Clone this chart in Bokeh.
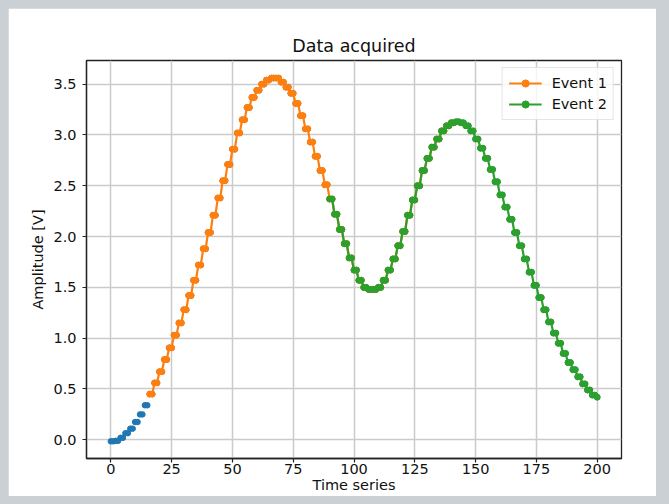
import numpy as np
from bokeh.plotting import figure
from bokeh.models import FixedTicker, Range1d, Legend, LegendItem, ColumnDataSource
from bokeh.embed import file_html
from bokeh.resources import INLINE

# Held signal levels (each level held for two samples), read at x = 0, 2, 4, ..., 200
levels = [
    -0.015, -0.01, 0.02, 0.065, 0.11, 0.175, 0.25, 0.34, 0.45, 0.56,
    0.67, 0.79, 0.905, 1.03, 1.15, 1.28, 1.42, 1.57, 1.72, 1.88,
    2.04, 2.21, 2.38, 2.55, 2.71, 2.86, 3.02, 3.15, 3.27, 3.37,
    3.44, 3.50, 3.54, 3.56, 3.56, 3.52, 3.47, 3.41, 3.31, 3.19,
    3.06, 2.93, 2.79, 2.65, 2.51, 2.37, 2.22, 2.07, 1.93, 1.79,
    1.67, 1.57, 1.50, 1.48, 1.48, 1.50, 1.57, 1.67, 1.78, 1.91,
    2.05, 2.21, 2.36, 2.50, 2.65, 2.77, 2.88, 2.96, 3.04, 3.09,
    3.12, 3.13, 3.12, 3.09, 3.04, 2.96, 2.87, 2.77, 2.66, 2.54,
    2.41, 2.29, 2.17, 2.04, 1.91, 1.78, 1.65, 1.52, 1.40, 1.28,
    1.16, 1.05, 0.95, 0.85, 0.76, 0.69, 0.62, 0.55, 0.49, 0.44,
    0.42,
]
n_samples = 201
event1_range = (16, 141)
event2_range = (90, 200)
x_ticks = [0, 25, 50, 75, 100, 125, 150, 175, 200]
y_ticks = [0.0, 0.5, 1.0, 1.5, 2.0, 2.5, 3.0, 3.5]
y_tick_labels = ["0.0", "0.5", "1.0", "1.5", "2.0", "2.5", "3.0", "3.5"]

x = np.arange(n_samples)
y = np.repeat(np.array(levels), 2)[:n_samples]

FONT = "DejaVu Sans"
BLUE, ORANGE, GREEN = "#1f77b4", "#ff7f0e", "#2ca02c"

p = figure(width=648, height=488, output_backend="svg", toolbar_location=None,
           x_range=Range1d(-10, 210), y_range=Range1d(-0.184, 3.733),
           title="Data acquired",
           min_border_left=78, min_border_right=35, min_border_top=52, min_border_bottom=38)

p.background_fill_color = "white"
p.border_fill_color = "white"
p.outline_line_color = "#222222"
p.outline_line_width = 1.3

p.title.align = "center"
p.title.text_font = FONT
p.title.text_font_style = "normal"
p.title.text_font_size = "17.5px"
p.title.text_color = "#111111"

for ax in (p.xaxis[0], p.yaxis[0]):
    ax.axis_line_color = "#222222"
    ax.axis_line_width = 1.3
    ax.major_tick_line_color = "#222222"
    ax.major_tick_line_width = 1.2
    ax.major_tick_out = 4
    ax.major_tick_in = 0
    ax.minor_tick_line_color = None
    ax.major_label_text_font = FONT
    ax.major_label_text_font_size = "14.5px"
    ax.major_label_text_color = "#111111"
    ax.axis_label_text_font = FONT
    ax.axis_label_text_font_style = "normal"
    ax.axis_label_text_font_size = "14.5px"
    ax.axis_label_text_color = "#111111"

p.xaxis[0].ticker = FixedTicker(ticks=x_ticks)
p.yaxis[0].ticker = FixedTicker(ticks=y_ticks)
p.yaxis[0].major_label_overrides = {t: l for t, l in zip(y_ticks, y_tick_labels)}
p.xaxis[0].axis_label = "Time series"
p.yaxis[0].axis_label = "Amplitude [V]"
p.xaxis[0].major_label_standoff = 1
p.xaxis[0].axis_label_standoff = 0
p.yaxis[0].major_label_standoff = 6
p.yaxis[0].axis_label_standoff = 4

for g in (p.xgrid[0], p.ygrid[0]):
    g.grid_line_color = "#cbcbcb"
    g.grid_line_width = 1.5

src_all = ColumnDataSource(dict(x=x, y=y))
p.scatter("x", "y", source=src_all, size=5.5, fill_color=BLUE, line_color=BLUE)

a, b = event1_range
src1 = ColumnDataSource(dict(x=x[a:b + 1], y=y[a:b + 1]))
l1 = p.line("x", "y", source=src1, line_color=ORANGE, line_width=2.2)
s1 = p.scatter("x", "y", source=src1, size=6, fill_color=ORANGE, line_color=ORANGE)

a, b = event2_range
src2 = ColumnDataSource(dict(x=x[a:b + 1], y=y[a:b + 1]))
l2 = p.line("x", "y", source=src2, line_color=GREEN, line_width=2.2)
s2 = p.scatter("x", "y", source=src2, size=6, fill_color=GREEN, line_color=GREEN)

legend = Legend(items=[LegendItem(label="Event 1", renderers=[l1, s1]),
                       LegendItem(label="Event 2", renderers=[l2, s2])],
                location="top_right")
legend.margin = 7
legend.padding = 6
legend.spacing = 3
legend.glyph_width = 33
legend.glyph_height = 18
legend.label_standoff = 10
legend.label_text_font = FONT
legend.label_text_font_size = "14.5px"
legend.label_text_color = "#111111"
legend.border_line_color = "#cccccc"
legend.border_line_width = 1
legend.background_fill_alpha = 0.8
p.add_layout(legend)

html = file_html(p, INLINE)
html = html.replace("</head>", "<style>html,body{background:#cbd0d5;}body{margin:8px;}</style></head>", 1)
open("out.html", "w").write(html)
